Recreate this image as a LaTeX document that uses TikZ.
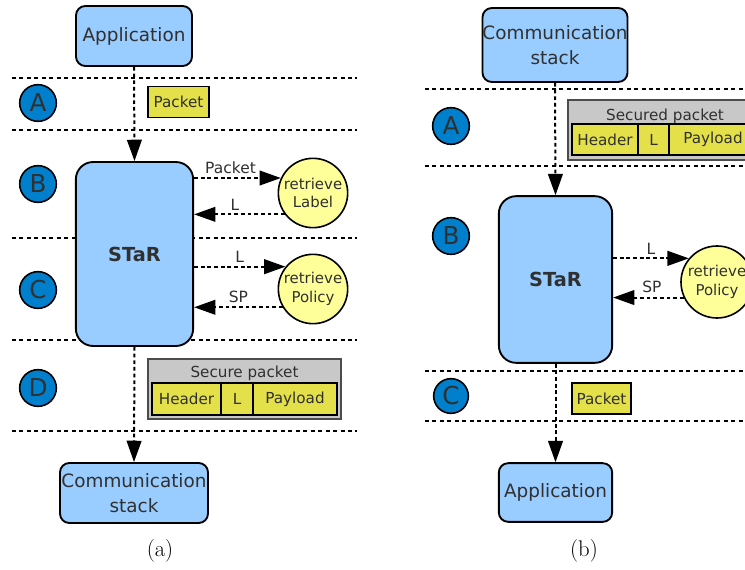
\documentclass[tikz,border=0pt]{standalone}
\usepackage{fontspec}
\usetikzlibrary{arrows.meta}
\newfontfamily\dv{DejaVu Sans}
\definecolor{boxblue}{HTML}{99CCFF}
\definecolor{circyellow}{HTML}{FFFF99}
\definecolor{pktyellow}{HTML}{E3E04A}
\definecolor{grpgray}{HTML}{C8C8C8}
\definecolor{lblblue}{HTML}{0080CC}
\definecolor{txt}{HTML}{303030}
\tikzset{
  comp/.style={draw=black, line width=1.4pt, fill=boxblue, rounded corners=7pt, inner sep=0pt, align=center, text=txt, font=\dv\fontsize{13.8}{17}\selectfont},
  proc/.style={circle, draw=black, line width=1.2pt, fill=circyellow, inner sep=0pt, minimum size=52pt, align=center, text=txt, font=\dv\fontsize{11.2}{14}\selectfont},
  lbl/.style={circle, draw=black, line width=1.2pt, fill=lblblue, inner sep=0pt, minimum size=27.5pt, text=txt, font=\dv\fontsize{18.5}{18}\selectfont},
  cell/.style={draw=black, line width=1.1pt, fill=pktyellow, inner sep=0pt, text=txt, font=\dv\fontsize{11.4}{13}\selectfont},
  grp/.style={draw=black!70, line width=1.2pt, fill=grpgray, inner sep=0pt},
  lane/.style={line width=1.4pt, dash pattern=on 3pt off 2.6pt},
  flow/.style={line width=1.5pt, dash pattern=on 2.8pt off 2.2pt, -{Triangle[length=16pt,width=11pt]}},
  albl/.style={text=txt, font=\dv\fontsize{11.6}{13}\selectfont, inner sep=2.5pt},
  grptitle/.style={text=txt, font=\dv\fontsize{11.4}{13}\selectfont, inner sep=1pt},
  captxt/.style={font=\fontsize{17}{19}\selectfont}
}
\begin{document}
\begin{tikzpicture}[x=0.75pt,y=-0.75pt]
\clip (0,0) rectangle (745,570);
\fill[white] (0,0) rectangle (745,570);

% ---------------- (a) ----------------
\draw[lane] (12,78) coordinate (la1) -- (357,78) coordinate (la1e);
\draw[lane] (12,130) coordinate (la2) -- (357,130) coordinate (la2e);
\draw[lane] (12,238) coordinate (la3) -- (357,238) coordinate (la3e);
\draw[lane] (12,340) coordinate (la4) -- (357,340) coordinate (la4e);
\draw[lane] (12,431) coordinate (la5) -- (357,431) coordinate (la5e);

\node[comp, minimum width=87pt, minimum height=45pt] (app1) at (134,36) {Application};
\node[comp, minimum width=88pt, minimum height=138pt, rounded corners=13pt, font=\dv\bfseries\fontsize{14.5}{17}\selectfont] (star1) at (134.5,254) {STaR};
\node[comp, minimum width=111pt, minimum height=45pt] (comm1) at (134,493) {Communication\\[2pt]stack};

\node[lbl] (A1) at (38,103) {A};
\node[lbl] (B1) at (38,184) {B};
\node[lbl] (C1) at (38,290) {C};
\node[lbl] (D1) at (38,388) {D};

\node[cell, minimum width=45.75pt, minimum height=23.25pt] (pkt1) at (178.5,102) {Packet};

\node[proc] (rl1) at (313,193) {retrieve\\Label};
\node[proc] (rp1) at (313,289) {retrieve\\Policy};

\draw[flow] (star1.east |- rl1.155) -- node[albl, above, pos=0.42] {Packet} (rl1.155);
\draw[flow] (rl1.217) -- node[albl, above, pos=0.55] {L} (star1.east |- rl1.217);
\draw[flow] (star1.east |- rp1.141) -- node[albl, above, pos=0.5] {L} (rp1.141);
\draw[flow] (rp1.211) -- node[albl, above, pos=0.5] {SP} (star1.east |- rp1.211);

\node[grp, minimum width=144.75pt, minimum height=45pt] (sp1) at (244.5,389) {};
\node[grptitle] (sp1t) at (244.5,373.5) {Secure packet};
\node[cell, minimum width=51.75pt, minimum height=24pt] (h1) at (186.5,399) {Header};
\node[cell, minimum width=24pt, minimum height=24pt] (l1) at (237,399) {L};
\node[cell, minimum width=63pt, minimum height=24pt] (p1) at (295,399) {Payload};

\draw[flow] (app1.south) -- (star1.north);
\draw[flow] (star1.south) -- (comm1.north);

\node[captxt] (capa) at (160,551) {(a)};

% ---------------- (b) ----------------
\draw[lane] (425,89) coordinate (lb1) -- (745,89) coordinate (lb1e);
\draw[lane] (425,166) coordinate (lb2) -- (745,166) coordinate (lb2e);
\draw[lane] (425,371) coordinate (lb3) -- (745,371) coordinate (lb3e);
\draw[lane] (425,421) coordinate (lb4) -- (745,421) coordinate (lb4e);

\node[comp, minimum width=108pt, minimum height=55.5pt] (comm2) at (555,45) {Communication\\[2pt]stack};
\node[comp, minimum width=85pt, minimum height=125pt, rounded corners=13pt, font=\dv\bfseries\fontsize{14.5}{17}\selectfont] (star2) at (555.5,279.5) {STaR};
\node[comp, minimum width=85pt, minimum height=44pt] (app2) at (555.5,492.5) {Application};

\node[lbl] (A2) at (451,126) {A};
\node[lbl] (B2) at (451,236) {B};
\node[lbl, minimum size=26pt] (C2) at (451,396) {C};

\node[grp, minimum width=145.5pt, minimum height=45pt] (sp2) at (665,130) {};
\node[grptitle] (sp2t) at (665,116) {Secured packet};
\node[cell, minimum width=49.5pt, minimum height=23.25pt] (h2) at (605,139.5) {Header};
\node[cell, minimum width=23.25pt, minimum height=23.25pt] (l2) at (653.5,139.5) {L};
\node[cell, minimum width=66pt, minimum height=23.25pt] (p2) at (713,139.5) {Payload};

\node[proc, minimum size=54pt] (rp2) at (717,282) {retrieve\\Policy};

\draw[flow] (star2.east |- rp2.140) -- node[albl, above, pos=0.5] {L} (rp2.140);
\draw[flow] (rp2.205) -- node[albl, above, pos=0.45] {SP} (star2.east |- rp2.205);

\node[cell, minimum width=44.25pt, minimum height=23.25pt] (pkt2) at (601.5,398.5) {Packet};

\draw[flow] (comm2.south) -- (star2.north);
\draw[flow] (star2.south) -- (app2.north);

\node[captxt] (capb) at (584,551) {(b)};
\end{tikzpicture}
\end{document}
